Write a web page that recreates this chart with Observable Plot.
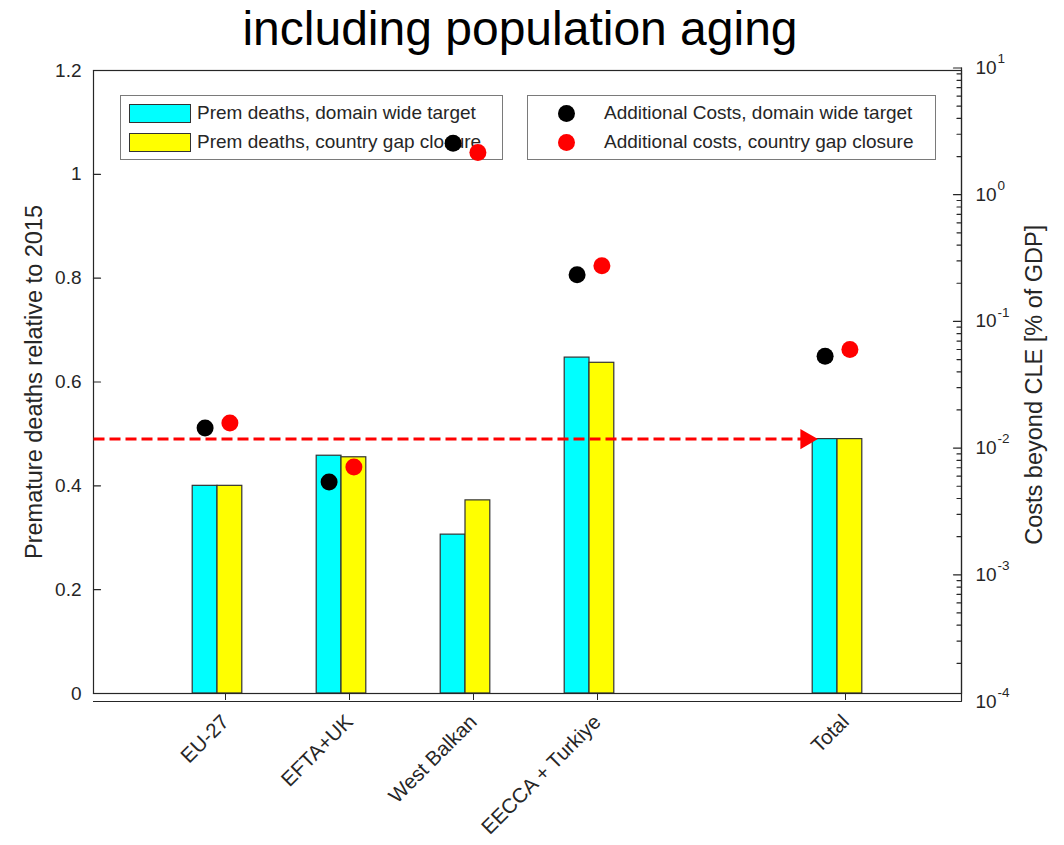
<!DOCTYPE html>
<html>
<head>
<meta charset="utf-8">
<script src="https://cdn.jsdelivr.net/npm/d3@7"></script>
<script src="https://cdn.jsdelivr.net/npm/@observablehq/plot@0.6"></script>
<style>
  html, body { margin: 0; padding: 0; background: #fff; }
  body { font-family: "Liberation Sans", Arial, sans-serif; }
  #wrap { position: relative; width: 1064px; height: 845px; overflow: hidden; }
  #title { position: absolute; left: 0; top: 5px; width: 1040px; text-align: center; font-size: 48px; line-height: 48px; color: #000; }
  #chart { position: absolute; left: 0; top: 60px; width: 1064px; height: 785px; }
  #chart > svg, #chart > figure { position: absolute; left: 0; top: 0; margin: 0; }
  .legend { position: absolute; background: #fff; border: 1px solid #7a7a7a; box-sizing: border-box; color: #262626; font-size: 19px; }
  .sw { position: absolute; width: 62px; height: 19px; border: 1px solid #333; box-sizing: border-box; }
  .dotsw { position: absolute; width: 17px; height: 17px; border-radius: 50%; }
  .lt { position: absolute; line-height: 20px; white-space: nowrap; }
</style>
</head>
<body>
<div id="wrap">
  <div id="title">including population aging</div>
  <div id="chart"></div>
</div>
<script>
// ---- data ----
const categories = ["EU-27", "EFTA+UK", "West Balkan", "EECCA + Turkiye", "Total"];
const slots = [1, 2, 3, 4, 6]; // x positions used by the original figure (gap before Total)
const premDomainWide = [0.400, 0.458, 0.306, 0.647, 0.490];
const premGapClosure = [0.400, 0.455, 0.372, 0.637, 0.490];
const costDomainWide = [0.0144, 0.0054, 2.55, 0.233, 0.053];
const costGapClosure = [0.0158, 0.0071, 2.15, 0.275, 0.060];
const leftTicks = [0, 0.2, 0.4, 0.6, 0.8, 1, 1.2];
const rightDecades = [1e-4, 1e-3, 1e-2, 1e-1, 1, 10];
const rightTickExponents = ["-4", "-3", "-2", "-1", "0", "1"];
const targetLevel = 0.49;
const legendBarLabels = ["Prem deaths, domain wide target", "Prem deaths, country gap closure"];
const legendDotLabels = ["Additional Costs, domain wide target", "Additional costs, country gap closure"];
const barColors = ["#00ffff", "#ffff00"];
const dotColors = ["#000000", "#ff0000"];

// ---- layout ----
const W = 1064, H = 785;
const ML = 93, MR = 103;
const BW = 0.2;
const font = "Liberation Sans, Arial, sans-serif";
const axisColor = "#262626";

const rows = categories.map((c, i) => ({cat: c, slot: slots[i], a: premDomainWide[i], b: premGapClosure[i], ca: costDomainWide[i], cb: costGapClosure[i]}));
const totalSlot = slots[categories.indexOf("Total")];
const arrowData = [{x1: 0, x2: totalSlot - 0.22, y: targetLevel}];
const expOf = new Map(rightDecades.map((d, i) => [d, rightTickExponents[i]]));
const catOf = new Map(slots.map((s, i) => [s, categories[i]]));
const minorTicks = [];
rightDecades.slice(0, -1).forEach(d => { for (let k = 2; k <= 9; k++) minorTicks.push(d * k); });

const tickShape = {draw(ctx, l) { ctx.moveTo(0, 0); ctx.lineTo(0, -l); }};

const p1 = Plot.plot({
  width: W, height: H,
  marginLeft: ML, marginRight: MR, marginTop: 10, marginBottom: 152,
  style: {fontFamily: font, fontSize: "19px", color: axisColor, background: "transparent", overflow: "visible"},
  x: {domain: [0, 7]},
  y: {domain: [0, 1.2]},
  marks: [
    Plot.rect(rows, {x1: d => d.slot - BW, x2: d => d.slot, y1: d => 0, y2: "a", fill: barColors[0], stroke: "#333", strokeWidth: 1.2}),
    Plot.rect(rows, {x1: d => d.slot, x2: d => d.slot + BW, y1: d => 0, y2: "b", fill: barColors[1], stroke: "#333", strokeWidth: 1.2}),
    Plot.frame({stroke: axisColor, strokeWidth: 1.2}),
    Plot.vector(leftTicks, {y: d => d, frameAnchor: "left", length: 7, rotate: 90, anchor: "start", shape: tickShape, stroke: axisColor, strokeWidth: 1.2}),
    Plot.axisY(leftTicks, {anchor: "left", tickSize: 0, tickPadding: 12, tickFormat: d => String(d), label: "Premature deaths relative to 2015", labelAnchor: "center", labelOffset: 68, labelArrow: "none", fontSize: 19, fill: axisColor}),
    Plot.axisX(slots, {anchor: "bottom", tickSize: 7, tickPadding: 18, tickRotate: -45, tickFormat: d => catOf.get(d), label: null, fontSize: 20.5, fill: axisColor, stroke: axisColor, dx: 8}),
    Plot.link(arrowData, {x1: "x1", x2: "x2", y1: "y", y2: "y", stroke: "#ff0000", strokeWidth: 3, strokeDasharray: "11,5"}),
    Plot.dot(arrowData, {x: "x2", y: "y", symbol: "triangle", rotate: 90, r: 7.5, fill: "#ff0000", stroke: null, dx: -4})
  ]
});

const p2 = Plot.plot({
  width: W, height: H,
  marginLeft: ML, marginRight: MR, marginTop: 7.5, marginBottom: 144,
  style: {fontFamily: font, fontSize: "19px", color: axisColor, background: "transparent", overflow: "visible"},
  x: {domain: [0, 7], axis: null},
  y: {type: "log", domain: [1e-4, 10]},
  marks: [
    Plot.ruleY([1e-4], {stroke: axisColor, strokeWidth: 1.2}),
    Plot.ruleX([7], {stroke: axisColor, strokeWidth: 1.2}),
    Plot.vector(minorTicks, {y: d => d, frameAnchor: "right", length: 4.5, rotate: -90, anchor: "start", shape: tickShape, stroke: axisColor, strokeWidth: 1.2}),
    Plot.vector(rightDecades, {y: d => d, frameAnchor: "right", length: 8, rotate: -90, anchor: "start", shape: tickShape, stroke: axisColor, strokeWidth: 1.2}),
    Plot.axisY(rightDecades, {anchor: "right", tickSize: 0, tickPadding: 14, tickFormat: () => "10", label: "Costs beyond CLE [% of GDP]", labelAnchor: "center", labelOffset: 80, labelArrow: "none", fontSize: 19, fill: axisColor}),
    Plot.text(rightDecades, {y: d => d, text: d => expOf.get(d), frameAnchor: "right", textAnchor: "start", dx: 36, dy: -9, fontSize: 13.5, fill: axisColor}),
    Plot.dot(rows, {x: d => d.slot - 0.1, y: "ca", r: 8.5, fill: dotColors[0], stroke: null}),
    Plot.dot(rows, {x: d => d.slot + 0.1, y: "cb", r: 8.5, fill: dotColors[1], stroke: null})
  ]
});

const chart = document.getElementById("chart");
chart.appendChild(p1);

// legends (between the two axes layers, like the original)
function legendBox(left, top, width, height, items, kind) {
  const box = document.createElement("div");
  box.className = "legend";
  Object.assign(box.style, {left: left + "px", top: top + "px", width: width + "px", height: height + "px"});
  items.forEach((it, i) => {
    const y = 8 + i * 29;
    const sw = document.createElement("div");
    if (kind === "bar") {
      sw.className = "sw";
      Object.assign(sw.style, {left: "8px", top: y + "px", background: it.color});
    } else {
      sw.className = "dotsw";
      Object.assign(sw.style, {left: "30px", top: (y + 1) + "px", background: it.color});
    }
    box.appendChild(sw);
    const t = document.createElement("div");
    t.className = "lt";
    t.textContent = it.label;
    Object.assign(t.style, {left: "76px", top: (y - 1) + "px"});
    box.appendChild(t);
  });
  chart.appendChild(box);
}
legendBox(120, 35, 383, 65, legendBarLabels.map((l, i) => ({label: l, color: barColors[i]})), "bar");
legendBox(527, 35, 409, 65, legendDotLabels.map((l, i) => ({label: l, color: dotColors[i]})), "dot");

chart.appendChild(p2);

// enlarge the axis titles (rotated labels) to match the original
document.querySelectorAll("#chart svg g[aria-label='y-axis label'] text, #chart svg g[aria-label='y-axis label']").forEach(el => el.setAttribute("font-size", 23.5));
</script>
</body>
</html>
